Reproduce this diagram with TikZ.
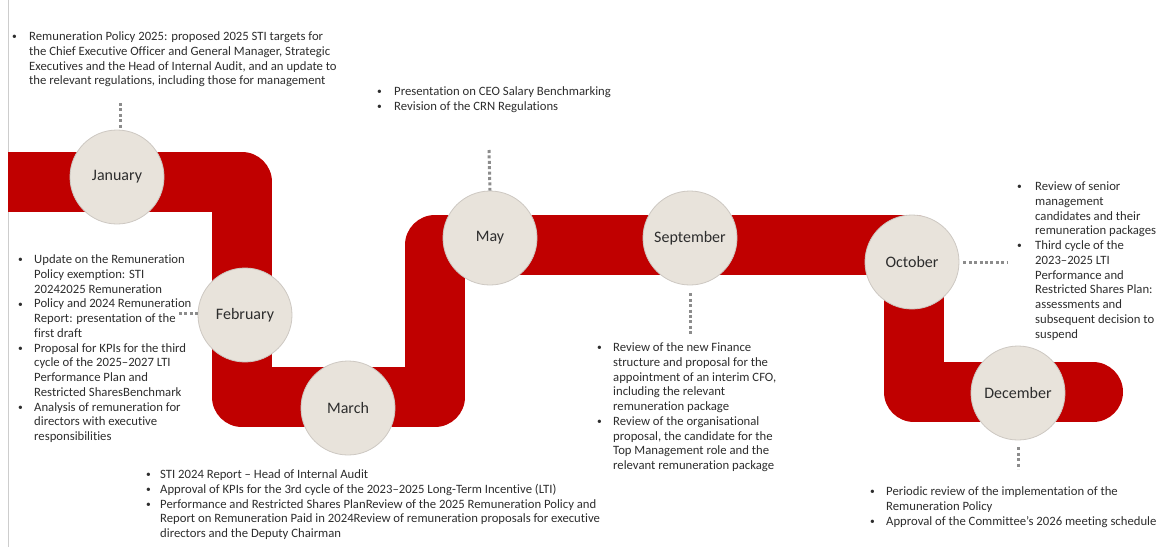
\documentclass[tikz,border=0pt]{standalone}
\usepackage{fontspec}
\usepackage{graphicx}
\setmainfont{Carlito}[Ligatures=NoCommon]
\definecolor{bandred}{RGB}{192,0,0}
\definecolor{beige}{RGB}{232,227,219}
\definecolor{circline}{RGB}{205,200,194}
\definecolor{txt}{RGB}{45,45,45}
\definecolor{dotgray}{RGB}{140,140,140}
\definecolor{edge}{RGB}{205,205,205}
\newcommand{\ind}{16}
\newcommand{\bi}{\strut\makebox[\ind pt][l]{\raisebox{0.6pt}{\scalebox{0.75}{\textbullet}}}}
\newcommand{\ci}{\hspace*{\ind pt}}
\begin{document}
\begin{tikzpicture}[x=1pt,y=-1pt,
  band/.style={draw=bandred,line width=60pt,line join=round,line cap=butt},
  month/.style={circle,minimum size=94pt,inner sep=0pt,fill=beige,draw=circline,line width=0.8pt,
    text=txt,font=\fontsize{16}{19}\selectfont},
  dots/.style={draw=dotgray,line width=3pt,dash pattern=on 3pt off 2.4pt},
  notes/.style={anchor=north west,inner sep=0pt,align=left,text=txt,
    font=\fontsize{12.7}{14.75}\selectfont}]
\useasboundingbox (0,0) rectangle (1168,547);
\draw[edge,line width=1pt] (8,0) -- (8,547);
% red band
\draw[band] (8,182) -- (242,182) -- (242,397) -- (435,397) -- (435,245)
  -- (914,245) -- (914,392) -- (1093,392);
\fill[bandred] (1093,392) circle[radius=30pt];
% months
\node[month] (jan) at (117,177) {January};
\node[month] (feb) at (245,315) {February};
\node[month] (mar) at (348,408) {March};
\node[month] (may) at (490,238) {May};
\node[month] (sep) at (690,238) {September};
\node[month] (oct) at (912,262) {October};
\node[month] (dec) at (1018,393) {December};
% dotted connectors
\coordinate (janT) at (120,103);
\coordinate (febT) at (179,313);
\coordinate (mayT) at (489,150);
\coordinate (sepB) at (690,334);
\coordinate (octT) at (1008,262);
\coordinate (decB) at (1018,469);
\draw[dots] (janT) -- (janT |- jan.north);
\draw[dots] (febT) -- (febT -| feb.west);
\draw[dots] (mayT) -- (may.north);
\draw[dots,shorten <=8pt] (sep.south) -- (sepB);
\draw[dots,shorten <=4pt] (oct.east) -- (octT);
\draw[dots,shorten <=7pt] (dec.south) -- (decB);
% notes
\renewcommand{\ind}{17}
\node[notes] (janN) at (12,30) {\bi Remuneration Policy 2025: proposed 2025 STI targets for\\
\ci the Chief Executive Officer and General Manager, Strategic\\
\ci Executives and the Head of Internal Audit, and an update to\\
\ci the relevant regulations, including those for management};
\renewcommand{\ind}{17}
\node[notes] (mayN) at (377,85) {\bi Presentation on CEO Salary Benchmarking\\
\bi Revision of the CRN Regulations};
\renewcommand{\ind}{16}
\node[notes] (febN) at (18,253) {\bi Update on the Remuneration\\
\ci Policy exemption: STI\\
\ci 20242025 Remuneration\\
\bi Policy and 2024 Remuneration\\
\ci Report: presentation of the\\
\ci first draft\\
\bi Proposal for KPIs for the third\\
\ci cycle of the 2025--2027 LTI\\
\ci Performance Plan and\\
\ci Restricted SharesBenchmark\\
\bi Analysis of remuneration for\\
\ci directors with executive\\
\ci responsibilities};
\renewcommand{\ind}{14}
\node[notes] (marN) at (146,468) {\bi STI 2024 Report -- Head of Internal Audit\\
\bi Approval of KPIs for the 3rd cycle of the 2023--2025 Long-Term Incentive (LTI)\\
\bi Performance and Restricted Shares PlanReview of the 2025 Remuneration Policy and\\
\ci Report on Remuneration Paid in 2024Review of remuneration proposals for executive\\
\ci directors and the Deputy Chairman};
\renewcommand{\ind}{16}
\node[notes] (sepN) at (597,341) {\bi Review of the new Finance\\
\ci structure and proposal for the\\
\ci appointment of an interim CFO,\\
\ci including the relevant\\
\ci remuneration package\\
\bi Review of the organisational\\
\ci proposal, the candidate for the\\
\ci Top Management role and the\\
\ci relevant remuneration package};
\renewcommand{\ind}{18}
\node[notes] (octN) at (1017,180) {\bi Review of senior\\
\ci management\\
\ci candidates and their\\
\ci remuneration packages\\
\bi Third cycle of the\\
\ci 2023--2025 LTI\\
\ci Performance and\\
\ci Restricted Shares Plan:\\
\ci assessments and\\
\ci subsequent decision to\\
\ci suspend};
\renewcommand{\ind}{16}
\node[notes] (decN) at (870,485) {\bi Periodic review of the implementation of the\\
\ci Remuneration Policy\\
\bi Approval of the Committee’s 2026 meeting schedule};
\end{tikzpicture}
\end{document}
